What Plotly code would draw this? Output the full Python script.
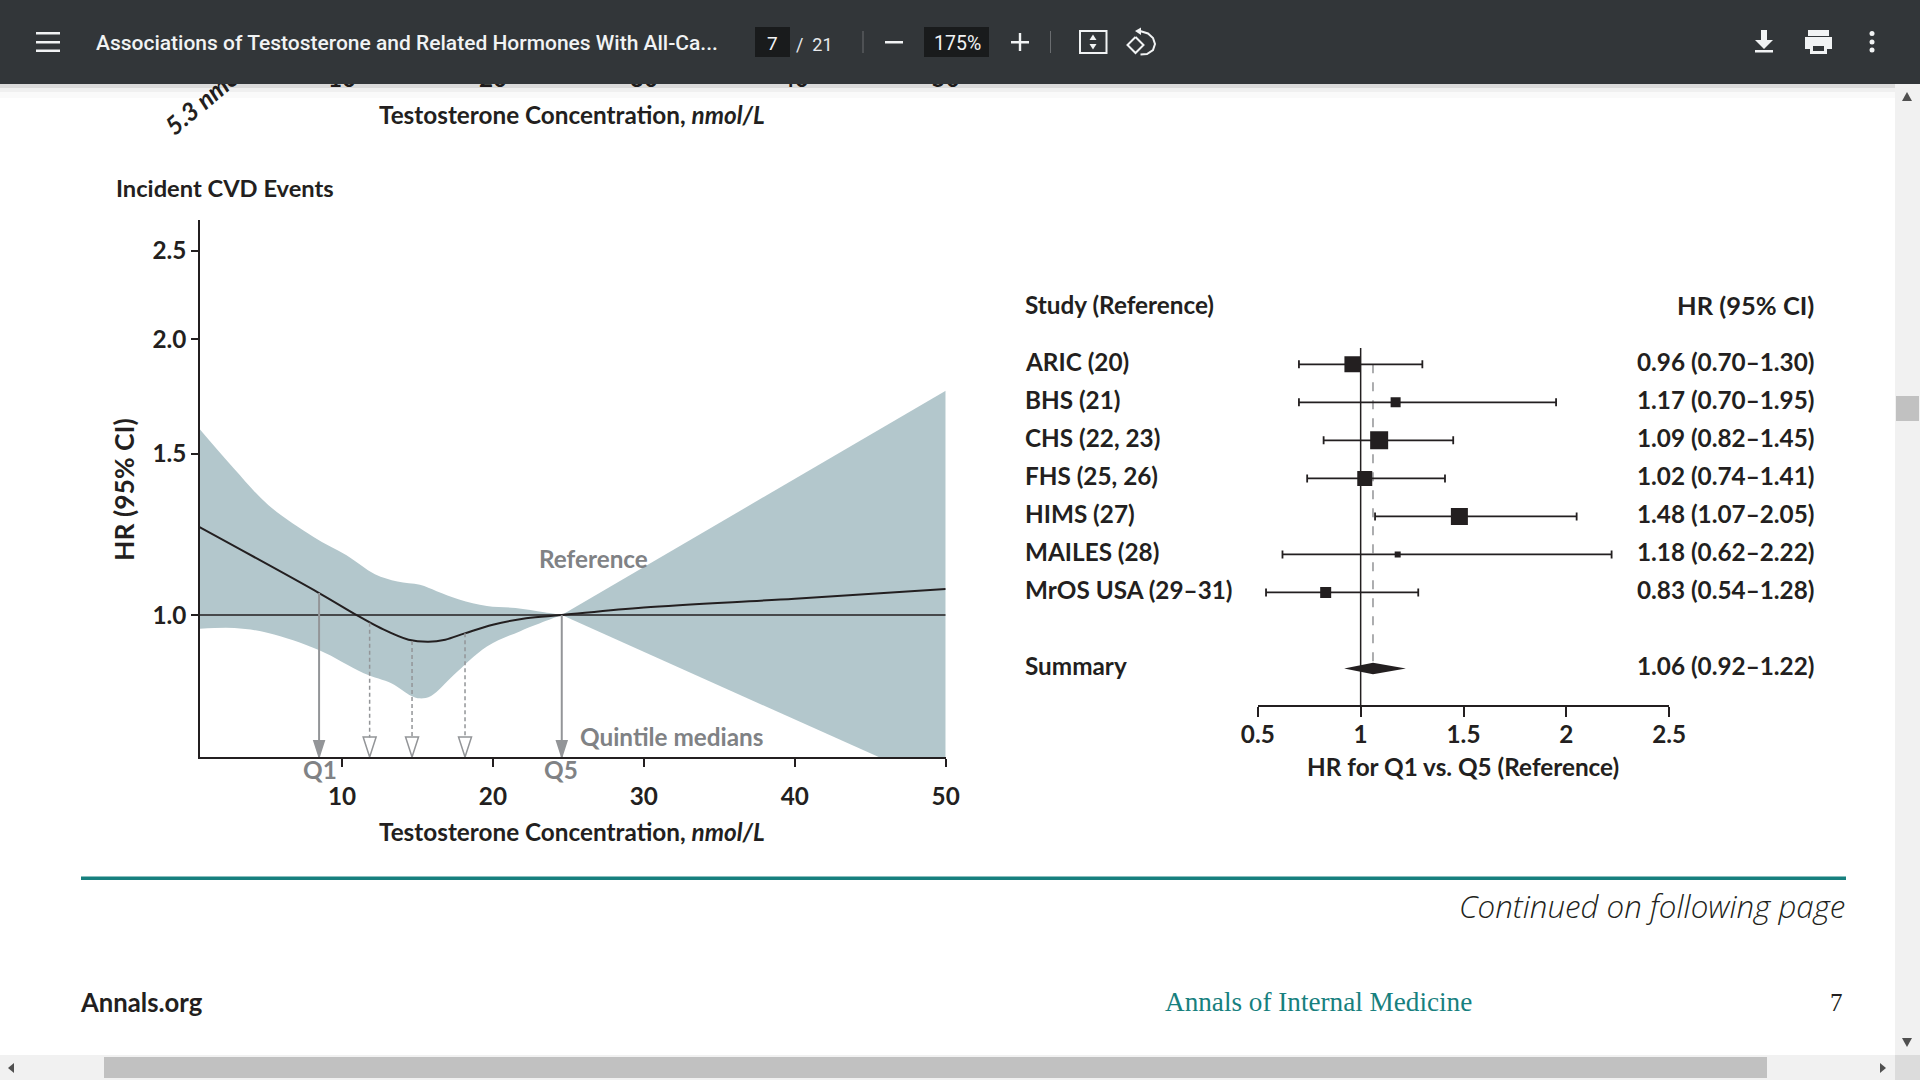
import plotly.graph_objects as go

W, H = 1920, 1080
INK = "#231f20"
GREY = "#808285"
ARROW = "#939598"
BAND = "#b3c7cc"
BAR = "#323639"
TEAL = "#17807e"
SANS = "Lato"
TEXT_SIZE = 24.3

# spline panel
conc_mean = [0.54, 8.48, 10.97, 12.55, 14.41, 15.73, 16.84, 18.13, 19.99, 22.2, 24.56, 30, 40, 50]
hr_mean = [1.248, 1.057, 1.0, 0.968, 0.94, 0.935, 0.94, 0.955, 0.976, 0.992, 1.0, 1.019, 1.042, 1.068]
conc_upper = [0.54, 2.88, 5.11, 8.09, 10.3, 12.18, 13.67, 15.16, 16.27, 17.76, 19.6, 21.5, 23.4, 24.56]
hr_upper = [1.598, 1.443, 1.319, 1.218, 1.162, 1.108, 1.088, 1.079, 1.062, 1.04, 1.023, 1.018, 1.007, 1.0]
conc_lower = [0.54, 2.88, 5.11, 8.46, 11.44, 13.3, 14.6, 15.16, 15.9, 17.4, 19.6, 21.85, 24.56]
hr_lower = [0.966, 0.968, 0.956, 0.916, 0.864, 0.842, 0.816, 0.811, 0.816, 0.86, 0.924, 0.961, 1.0]
wedge_conc = [24.56, 50, 50]
wedge_hr = [1.0, 1.758, 0.649]
quintile_conc = [8.48, 11.83, 14.64, 18.15, 24.56]
quintile_hr = [1.057, 0.981, 0.937, 0.955, 1.0]
arrow_tip_hr = 0.7
dash_end_hr = 0.735
hr_ticks = [1.0, 1.5, 2.0, 2.5]
conc_ticks = [10, 20, 30, 40, 50]

# forest panel
studies = ["ARIC (20)", "BHS (21)", "CHS (22, 23)", "FHS (25, 26)", "HIMS (27)", "MAILES (28)", "MrOS USA (29–31)"]
study_hr = [0.96, 1.17, 1.09, 1.02, 1.48, 1.18, 0.83]
study_low = [0.70, 0.70, 0.82, 0.74, 1.07, 0.62, 0.54]
study_high = [1.30, 1.95, 1.45, 1.41, 2.05, 2.22, 1.28]
study_box = [16, 10, 18, 15, 17, 6, 11]
summary_hr, summary_low, summary_high = 1.06, 0.92, 1.22
forest_ticks = [0.5, 1, 1.5, 2, 2.5]
forest_labels = ["0.5", "1", "1.5", "2", "2.5"]


def fx(x):
    return x / W


def fy(y):
    return 1 - y / H


def rect(x0, y0, x1, y1, color, line=None):
    return dict(type="rect", xref="paper", yref="paper", x0=fx(x0), x1=fx(x1), y0=fy(y0), y1=fy(y1),
                fillcolor=color, line=dict(width=0) if line is None else line, layer="above")


def poly(points, color):
    path = "M" + " L".join(f"{fx(x):.5f},{fy(y):.5f}" for x, y in points) + " Z"
    return dict(type="path", xref="paper", yref="paper", path=path, fillcolor=color, line=dict(width=0), layer="above")


def stroke(points, color, width=2):
    path = "M" + " L".join(f"{fx(x):.5f},{fy(y):.5f}" for x, y in points)
    return dict(type="path", xref="paper", yref="paper", path=path, line=dict(color=color, width=width), layer="above")


def dot(x, y, r, color):
    return dict(type="circle", xref="paper", yref="paper", x0=fx(x - r), x1=fx(x + r), y0=fy(y + r), y1=fy(y - r),
                fillcolor=color, line=dict(width=0), layer="above")


def label(text, x, y, size=TEXT_SIZE, color=INK, anchor="left", family=SANS, weight=700, angle=0, italic=False):
    return dict(text=text, xref="paper", yref="paper", x=fx(x), y=fy(y), xanchor=anchor, yanchor="middle",
                showarrow=False, textangle=angle,
                font=dict(family=family, size=size, color=color, weight=weight, style="italic" if italic else "normal"))


def row_label(text, x, row, anchor):
    return dict(text=text, xref="paper", yref="y2", x=fx(x), y=row, xanchor=anchor, yanchor="middle", yshift=2.5,
                showarrow=False, font=dict(family=SANS, size=TEXT_SIZE, color=INK, weight=700))


fig = go.Figure()

# spline panel
fig.add_trace(go.Scatter(x=conc_upper + conc_lower[::-1], y=hr_upper + hr_lower[::-1], mode="lines", fill="toself",
                         fillcolor=BAND, line=dict(width=0, shape="spline", smoothing=1), hoverinfo="skip"))
fig.add_trace(go.Scatter(x=wedge_conc, y=wedge_hr, mode="lines", fill="toself", fillcolor=BAND,
                         line=dict(width=0), hoverinfo="skip"))
fig.add_trace(go.Scatter(x=[0.54, 50], y=[1, 1], mode="lines", line=dict(color=INK, width=1.5), hoverinfo="skip"))
fig.add_trace(go.Scatter(x=conc_mean, y=hr_mean, mode="lines",
                         line=dict(color=INK, width=2, shape="spline", smoothing=1), hoverinfo="skip"))
for i, (q, top) in enumerate(zip(quintile_conc, quintile_hr)):
    solid = i in (0, 4)
    fig.add_trace(go.Scatter(x=[q, q], y=[top, arrow_tip_hr if solid else dash_end_hr], mode="lines",
                             line=dict(color=ARROW, width=2 if solid else 1.5, dash="solid" if solid else "4px,3px"),
                             hoverinfo="skip"))
    fig.add_trace(go.Scatter(x=[q], y=[arrow_tip_hr], mode="markers", cliponaxis=False, hoverinfo="skip",
                             marker=dict(symbol="arrow" if solid else "arrow-open", angle=180, size=17 if solid else 21,
                                         color=ARROW, line=dict(color=ARROW, width=1.5))))

# forest panel
fig.add_trace(go.Scatter(x=[summary_hr, summary_hr], y=[0, 8], xaxis="x2", yaxis="y2", mode="lines",
                         line=dict(color=GREY, width=1.3, dash="dash"), hoverinfo="skip"))
fig.add_trace(go.Scatter(x=[1, 1], y=[-0.43, 9], xaxis="x2", yaxis="y2", mode="lines",
                         line=dict(color=INK, width=1.5), hoverinfo="skip"))
rows = list(range(len(studies)))
fig.add_trace(go.Scatter(
    x=study_hr, y=rows, xaxis="x2", yaxis="y2", mode="markers", hoverinfo="skip",
    marker=dict(symbol="square", size=study_box, color=INK, opacity=1, line=dict(width=0)),
    error_x=dict(type="data", symmetric=False, array=[h - e for h, e in zip(study_high, study_hr)],
                 arrayminus=[e - l for e, l in zip(study_hr, study_low)], color=INK, thickness=1.8, width=4),
))
fig.add_trace(go.Scatter(x=[summary_low, summary_hr, summary_high, summary_hr], y=[8, 7.85, 8, 8.15],
                         xaxis="x2", yaxis="y2", mode="lines", fill="toself", fillcolor=INK,
                         line=dict(width=0), hoverinfo="skip"))

# cut-off panel above, only there so the toolbar can hide part of it
fig.add_trace(go.Scatter(x=[10], y=[0], xaxis="x3", yaxis="y3", mode="markers", marker=dict(opacity=0), hoverinfo="skip"))
fig.add_trace(go.Scatter(x=[10], y=[0], xaxis="x4", yaxis="y4", mode="markers", marker=dict(opacity=0), hoverinfo="skip"))

tick_font = dict(family=SANS, size=TEXT_SIZE, color=INK, weight=700)
annotations = [
    label("Incident CVD Events", 114, 188, size=23.7),
    label("HR (95% CI)", 124, 490, size=26.5, angle=-90, anchor="center"),
    label("Testosterone Concentration, <i>nmol/L</i>", 572, 831, anchor="center"),
    label("Testosterone Concentration, <i>nmol/L</i>", 572, 114.5, anchor="center"),
    label("Reference", 593, 558, color=GREY, anchor="center"),
    label("Quintile medians", 671, 736, color=GREY, anchor="center"),
    label("Q1", 320, 770, color=GREY, anchor="center"),
    label("Q5", 561, 770, color=GREY, anchor="center"),
    label("Study (Reference)", 1023, 304.5),
    label("HR (95% CI)", 1816, 304.5, size=25.5, anchor="right"),
    label("HR for Q1 vs. Q5 (Reference)", 1463, 766, anchor="center"),
    label("Continued on following page", 1847, 906, size=31.3, anchor="right", family="Open Sans", weight=300, italic=True),
    label("Annals.org", 78, 1002, size=25.7, weight=700),
    label("Annals of Internal Medicine", 1318, 1002, size=27.2, color=TEAL, anchor="center",
          family="Liberation Serif", weight=400),
    label("7", 1845, 1002, size=25, anchor="right", family="Liberation Serif", weight=400),
    # viewer toolbar
    label("Associations of Testosterone and Related Hormones With All-Ca...", 94, 43, size=21, color="#f1f3f4",
          family="Roboto", weight=500),
    label("7", 772, 43, size=19, color="#f1f3f4", anchor="center", family="Roboto", weight=400),
    label("/  21", 794, 44, size=18, color="#e8eaed", family="Roboto", weight=400),
    label("175%", 957, 43, size=19.5, color="#f1f3f4", anchor="center", family="Roboto", weight=400),
]
for i, study in enumerate(studies):
    annotations.append(row_label(study, 1023, i, "left"))
    annotations.append(row_label(f"{study_hr[i]:.2f} ({study_low[i]:.2f}–{study_high[i]:.2f})", 1816, i, "right"))
annotations.append(row_label("Summary", 1023, 8, "left"))
annotations.append(row_label(f"{summary_hr:.2f} ({summary_low:.2f}–{summary_high:.2f})", 1816, 8, "right"))

ICON = "#f1f3f4"
shapes = [
    # footer rule
    rect(81, 876.5, 1846, 880, TEAL),
    # toolbar shadow, then toolbar
    rect(0, 84, 1895, 88, "rgba(0,0,0,0.14)"),
    rect(0, 88, 1895, 92, "rgba(0,0,0,0.06)"),
    rect(0, 92, 1895, 98, "rgba(0,0,0,0.02)"),
    rect(0, 0, W, 84, BAR),
    rect(755, 27, 790, 57, "#191b1c"),
    rect(924, 27, 989, 57, "#191b1c"),
    rect(862.5, 31, 863.5, 53, "#6a6d70"),
    rect(1050, 31, 1051, 53, "#6a6d70"),
    rect(36, 32, 60, 34.5, ICON),
    rect(36, 41, 60, 43.5, ICON),
    rect(36, 49.5, 60, 52, ICON),
    rect(885, 41, 903, 43.5, ICON),
    rect(1011, 41, 1029, 43.5, ICON),
    rect(1018.8, 33, 1021.2, 51, ICON),
    # fit to page
    dict(type="rect", xref="paper", yref="paper", x0=fx(1080), x1=fx(1106.5), y0=fy(31), y1=fy(53),
         line=dict(color=ICON, width=2), layer="above"),
    poly([(1093, 34.5), (1089.5, 40), (1096.5, 40)], ICON),
    poly([(1093, 49.5), (1089.5, 44), (1096.5, 44)], ICON),
    # rotate
    stroke([(1135.5, 37), (1143.5, 45), (1135.5, 53), (1127.5, 45), (1135.5, 37)], ICON),
    stroke([(1140, 31), (1148, 33.5), (1153, 38), (1155, 44), (1153, 50), (1147, 54), (1140.5, 54.5)], ICON),
    poly([(1135, 31), (1141, 27.5), (1141, 35)], ICON),
    # download
    rect(1761, 30, 1767, 40, ICON),
    poly([(1755, 40), (1773, 40), (1764, 49)], ICON),
    rect(1755, 50, 1773, 52.5, ICON),
    # print
    rect(1808, 30, 1829, 36, ICON),
    rect(1805, 37, 1832, 49, ICON),
    rect(1810, 44, 1827, 54, ICON),
    rect(1813, 46, 1824, 51, BAR),
    # dots
    dot(1872, 33.5, 2.5, ICON),
    dot(1872, 42, 2.5, ICON),
    dot(1872, 50, 2.5, ICON),
    # scrollbars
    rect(1895, 84, W, 1055, "#f1f1f1"),
    rect(1896, 396, 1919, 421, "#c1c1c1"),
    poly([(1907, 92), (1902, 101), (1912, 101)], "#505050"),
    poly([(1907, 1047), (1902, 1038), (1912, 1038)], "#505050"),
    rect(0, 1055, 1895, H, "#f1f1f1"),
    rect(1895, 1055, W, H, "#dcdcdc"),
    rect(104, 1057, 1767, 1078, "#c1c1c1"),
    poly([(8, 1068), (14, 1063), (14, 1073)], "#505050"),
    poly([(1886, 1068), (1880, 1063), (1880, 1073)], "#505050"),
]

fig.update_layout(
    template="none", width=W, height=H, margin=dict(l=0, r=0, t=0, b=0, pad=0), showlegend=False,
    paper_bgcolor="white", plot_bgcolor="rgba(0,0,0,0)",
    xaxis=dict(domain=[fx(200), fx(945.7)], range=[0.59, 50], tickvals=conc_ticks, ticks="outside", ticklen=8,
               tickwidth=1.5, tickcolor=INK, showline=True, linecolor=INK, linewidth=1.5, showgrid=False,
               zeroline=False, tickfont=tick_font, ticklabelstandoff=9, anchor="y", automargin=False),
    yaxis=dict(domain=[fy(757), fy(220)], type="log", range=[-0.155, 0.4314], tickvals=hr_ticks,
               ticktext=[f"{v:.1f}" for v in hr_ticks], ticks="outside", ticklen=7, tickwidth=1.5, tickcolor=INK,
               showline=True, linecolor=INK, linewidth=1.5, showgrid=False, zeroline=False, tickfont=tick_font,
               anchor="x", automargin=False),
    xaxis2=dict(domain=[fx(1257.8), fx(1669.2)], range=[0.5, 2.5], tickvals=forest_ticks, ticktext=forest_labels,
                ticks="outside", ticklen=10, tickwidth=1.5, tickcolor=INK, showline=True, linecolor=INK, linewidth=1.5,
                showgrid=False, zeroline=False, tickfont=tick_font, ticklabelstandoff=-3, anchor="y2", automargin=False),
    yaxis2=dict(domain=[fy(705.3), fy(348)], range=[8.97, -0.43], visible=False, anchor="x2", automargin=False),
    xaxis3=dict(domain=[fx(199.3), fx(945.7)], range=[0.54, 50], tickvals=conc_ticks, ticks="", showline=False,
                showgrid=False, zeroline=False, tickfont=tick_font, anchor="y3", automargin=False),
    yaxis3=dict(domain=[fy(62), fy(40)], range=[0, 1], visible=False, anchor="x3", automargin=False),
    xaxis4=dict(domain=[fx(199.3), fx(945.7)], range=[0.54, 50], tickvals=[4.23], ticktext=["5.3 nmol/L"], ticks="",
                tickangle=-40, showline=False, showgrid=False, zeroline=False,
                tickfont=dict(family=SANS, size=25, color=INK, weight=700, style="italic"), anchor="y4",
                automargin=False),
    yaxis4=dict(domain=[fy(39), fy(17)], range=[0, 1], visible=False, anchor="x4", automargin=False),
    annotations=annotations,
    shapes=shapes,
)

fig.write_html("out.html", config={"displayModeBar": False},
               post_script="document.body.style.margin='0';document.body.style.overflow='hidden';")
